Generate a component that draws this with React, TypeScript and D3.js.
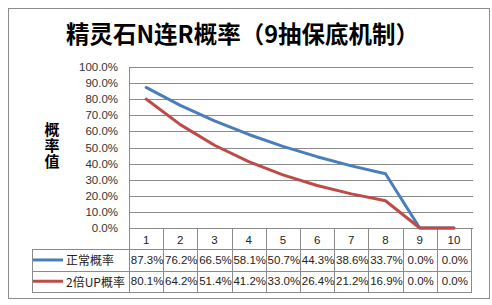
import React from "react";
import * as d3 from "d3";

const categories = ["1", "2", "3", "4", "5", "6", "7", "8", "9", "10"];
const normalRate = [87.3, 76.2, 66.5, 58.1, 50.7, 44.3, 38.6, 33.7, 0.0, 0.0];
const doubleUpRate = [80.1, 64.2, 51.4, 41.2, 33.0, 26.4, 21.2, 16.9, 0.0, 0.0];
const seriesNames = ["正常概率", "2倍UP概率"];
const seriesColors = ["#4A7EBB", "#BE4B48"];
const yTicks = [0, 10, 20, 30, 40, 50, 60, 70, 80, 90, 100];
const title = "精灵石N连R概率（9抽保底机制）";
const yTitle = "概率值";

const W = 492;
const H = 305;
const plot = { left: 129, right: 471, top: 67, bottom: 228 };
const rowH = 21.3;
const tableLeft = 32;

export default function App() {
  const x = d3
    .scaleBand<string>()
    .domain(categories)
    .range([plot.left, plot.right])
    .padding(0);
  const y = d3.scaleLinear().domain([0, 100]).range([plot.bottom, plot.top]);
  const line = d3
    .line<number>()
    .x((_, i) => (x(categories[i]) as number) + x.bandwidth() / 2)
    .y((d) => y(d));

  const series = [normalRate, doubleUpRate];
  const gridColor = "#8a8a8a";
  const tableColor = "#8a8a8a";
  const numFont = "'Liberation Sans', Arial, sans-serif";
  const cjkFont = "'Noto Sans CJK SC', sans-serif";

  const rowTop = (r: number) => plot.bottom + r * rowH;

  return (
    <svg
      width={W}
      height={H}
      style={{ position: "absolute", left: 0, top: 0 }}
      xmlns="http://www.w3.org/2000/svg"
    >
      <rect x={0} y={0} width={W} height={H} fill="#ffffff" />
      <rect x={8.5} y={8.5} width={481} height={290} fill="#ffffff" stroke="#8c8c8c" strokeWidth={1} />

      <text
        x={242.5}
        y={32.5}
        textAnchor="middle"
        dominantBaseline="central"
        fontFamily={cjkFont}
        fontWeight={700}
        fontSize={23.5}
        fill="#000"
      >
        {title}
      </text>

      <text
        x={52}
        y={146}
        textAnchor="middle"
        style={{ writingMode: "vertical-rl", letterSpacing: "1px" }}
        fontFamily={cjkFont}
        fontWeight={700}
        fontSize={15}
        fill="#000"
      >
        {yTitle}
      </text>

      {/* gridlines */}
      {yTicks.map((t) => (
        <line
          key={t}
          x1={plot.left}
          x2={plot.right + 2}
          y1={Math.round(y(t)) + 0.5}
          y2={Math.round(y(t)) + 0.5}
          stroke={gridColor}
          strokeWidth={1}
        />
      ))}
      {yTicks.map((t) => (
        <text
          key={"l" + t}
          x={118}
          y={y(t)}
          textAnchor="end"
          dominantBaseline="central"
          fontFamily={numFont}
          fontSize={11.5}
          fill="#333"
        >
          {t.toFixed(1) + "%"}
        </text>
      ))}
      <line
        x1={plot.left + 0.5}
        x2={plot.left + 0.5}
        y1={plot.top}
        y2={plot.bottom}
        stroke={gridColor}
      />

      {/* table */}
      {categories.map((c) => {
        const bx = Math.round(x(c) as number) + 0.5;
        return (
          <line key={"v" + c} x1={bx} x2={bx} y1={plot.bottom} y2={rowTop(3)} stroke={tableColor} />
        );
      })}
      <line
        x1={plot.right + 0.5}
        x2={plot.right + 0.5}
        y1={plot.bottom}
        y2={rowTop(3)}
        stroke={tableColor}
      />
      <line
        x1={tableLeft + 0.5}
        x2={tableLeft + 0.5}
        y1={rowTop(1)}
        y2={rowTop(3)}
        stroke={tableColor}
      />
      {[1, 2, 3].map((r) => (
        <line
          key={"h" + r}
          x1={tableLeft}
          x2={plot.right + 1}
          y1={Math.round(rowTop(r)) + 0.5}
          y2={Math.round(rowTop(r)) + 0.5}
          stroke={tableColor}
        />
      ))}
      {categories.map((c) => (
        <text
          key={"c" + c}
          x={(x(c) as number) + x.bandwidth() / 2}
          y={rowTop(0) + rowH / 2 + 1}
          textAnchor="middle"
          dominantBaseline="central"
          fontFamily={numFont}
          fontSize={11.5}
          fill="#222"
        >
          {c}
        </text>
      ))}
      {series.map((s, si) => (
        <g key={"row" + si}>
          <line
            x1={33}
            x2={63}
            y1={rowTop(si + 1) + rowH / 2}
            y2={rowTop(si + 1) + rowH / 2}
            stroke={seriesColors[si]}
            strokeWidth={3}
          />
          <text
            x={66}
            y={rowTop(si + 1) + rowH / 2}
            dominantBaseline="central"
            fontFamily={cjkFont}
            fontSize={12}
            fill="#222"
          >
            {seriesNames[si]}
          </text>
          {s.map((v, i) => (
            <text
              key={i}
              x={(x(categories[i]) as number) + x.bandwidth() / 2 + 1}
              y={rowTop(si + 1) + rowH / 2}
              textAnchor="middle"
              dominantBaseline="central"
              fontFamily={numFont}
              fontSize={11.5}
              fill="#222"
            >
              {v.toFixed(1) + "%"}
            </text>
          ))}
        </g>
      ))}

      {/* lines */}
      {series.map((s, si) => (
        <path
          key={"p" + si}
          d={line(s) || ""}
          fill="none"
          stroke={seriesColors[si]}
          strokeWidth={3}
          strokeLinejoin="round"
          strokeLinecap="round"
        />
      ))}
    </svg>
  );
}
